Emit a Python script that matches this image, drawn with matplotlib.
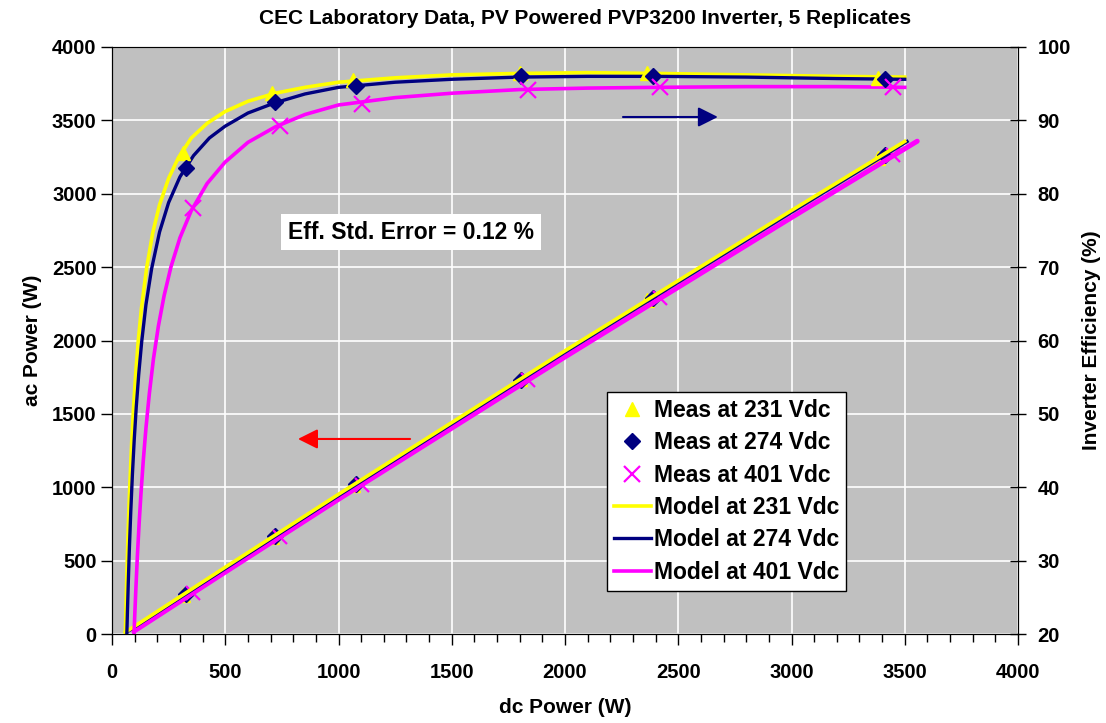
import matplotlib
matplotlib.use("Agg")
import matplotlib.pyplot as plt
from matplotlib.ticker import MultipleLocator

plt.rcParams["font.family"] = ["Liberation Sans", "DejaVu Sans"]
plt.rcParams["font.weight"] = "bold"

# measured points (dc power W, efficiency %, ac power W)
dc_231 = [315, 705, 1063, 1801, 2361, 3384]
eff_231 = [85.5, 93.7, 95.5, 96.4, 96.4, 95.8]
ac_231 = [269, 661, 1015, 1736, 2276, 3242]

dc_274 = [327, 720, 1077, 1804, 2387, 3413]
eff_274 = [83.5, 92.5, 94.7, 96.0, 96.05, 95.6]
ac_274 = [273, 666, 1020, 1732, 2293, 3263]

dc_401 = [356, 742, 1102, 1835, 2419, 3450]
eff_401 = [78.0, 89.2, 92.2, 94.2, 94.6, 94.6]
ac_401 = [278, 662, 1016, 1729, 2288, 3264]

# model efficiency curves
mdc_231 = [59, 62, 66, 70, 75, 80, 87, 95, 105, 116, 130, 153, 180, 210, 250, 293, 350, 420,
           499, 600, 720, 852, 1000, 1250, 1500, 1800, 2100, 2400, 2800, 3200, 3500]
meff_231 = [20, 23.9, 28.6, 32.8, 37.4, 41.3, 46.2, 50.8, 55.6, 60, 64.4, 69.9, 74.7, 78.5, 82.1,
            84.9, 87.6, 89.6, 91.2, 92.6, 93.7, 94.5, 95.2, 95.8, 96.2, 96.4, 96.5, 96.4, 96.2,
            96.0, 95.9]

mdc_274 = [65.5, 68, 72, 77, 83, 90, 98, 107, 118, 131, 150, 175, 210, 250, 300, 360, 430, 499,
           600, 720, 852, 1000, 1250, 1500, 1800, 2100, 2400, 2800, 3200, 3500]
meff_274 = [20, 22.9, 27.1, 31.9, 36.8, 41.7, 46.4, 50.9, 55.4, 59.8, 64.9, 69.8, 74.8, 78.8,
            82.3, 85.2, 87.6, 89.2, 91.0, 92.4, 93.6, 94.5, 95.2, 95.6, 95.9, 96.0, 96.0, 95.9,
            95.7, 95.6]

mdc_401 = [97.2, 100, 105, 112, 120, 128, 138, 150, 165, 183, 205, 230, 260, 300, 350, 420, 499,
           600, 720, 852, 1000, 1250, 1500, 1800, 2100, 2400, 2800, 3200, 3500]
meff_401 = [20, 22.2, 25.9, 30.6, 35.2, 39.2, 43.6, 48.1, 52.8, 57.5, 62.0, 66.1, 70.0, 74.0,
            77.7, 81.4, 84.3, 87.0, 89.1, 90.8, 92.1, 93.1, 93.7, 94.2, 94.4, 94.5, 94.6, 94.6,
            94.5]

# model ac power lines
mac_dc_231 = [59, 500, 1000, 2000, 3000, 3500]
mac_231 = [12, 455, 952, 1930, 2886, 3357]
mac_dc_274 = [65, 500, 1000, 2000, 3000, 3510]
mac_274 = [13, 446, 943, 1920, 2874, 3356]
mac_dc_401 = [97, 500, 1000, 2000, 3000, 3555]
mac_401 = [19, 422, 918, 1888, 2838, 3358]

YEL, NAVY, MAG = "#FFFF00", "#000080", "#FF00FF"

fig = plt.figure(figsize=(11.06, 7.23), dpi=100)
ax = fig.add_axes([112 / 1106, 1 - 634 / 723, 906 / 1106, 587 / 723])
ax2 = ax.twinx()

ax.set_facecolor("#C0C0C0")
ax.set_xlim(0, 4000)
ax.set_ylim(0, 4000)
ax2.set_ylim(20, 100)
ax.xaxis.set_major_locator(MultipleLocator(500))
ax.xaxis.set_minor_locator(MultipleLocator(100))
ax.yaxis.set_major_locator(MultipleLocator(500))
ax2.yaxis.set_major_locator(MultipleLocator(10))
ax.grid(True, color="white", lw=1.2)
ax.set_axisbelow(True)

# ac power (left axis): markers under the model lines
ax.plot(dc_231, ac_231, "^", color=YEL, ms=10, zorder=2)
ax.plot(dc_274, ac_274, "D", color=NAVY, ms=8, zorder=2)
ax.plot(dc_401, ac_401, "x", color=MAG, ms=10, mew=1.6, zorder=2)
ax.plot(mac_dc_401, mac_401, color=MAG, lw=3.6, zorder=3, solid_capstyle="round")
ax.plot(mac_dc_274, mac_274, color=NAVY, lw=2.4, zorder=3)
ax.plot(mac_dc_231, mac_231, color=YEL, lw=2.6, zorder=3)

# efficiency (right axis)
l1, = ax2.plot(mdc_231, meff_231, color=YEL, lw=2.6, label="Model at 231 Vdc")
l2, = ax2.plot(mdc_274, meff_274, color=NAVY, lw=2.4, label="Model at 274 Vdc")
l3, = ax2.plot(mdc_401, meff_401, color=MAG, lw=2.6, label="Model at 401 Vdc")
m1, = ax2.plot(dc_231, eff_231, "^", color=YEL, ms=10, ls="none", label="Meas at 231 Vdc")
m2, = ax2.plot(dc_274, eff_274, "D", color=NAVY, ms=8, ls="none", label="Meas at 274 Vdc")
m3, = ax2.plot(dc_401, eff_401, "x", color=MAG, ms=11, mew=1.6, ls="none", label="Meas at 401 Vdc")

# arrows pointing to each axis
ax.annotate("", xy=(821, 1329), xytext=(1316, 1329),
            arrowprops=dict(arrowstyle="-|>", color="#FF0000", lw=1.5, mutation_scale=30,
                            shrinkA=0, shrinkB=0))
ax2.annotate("", xy=(2675, 90.46), xytext=(2256, 90.46),
             arrowprops=dict(arrowstyle="-|>", color=NAVY, lw=1.5, mutation_scale=30,
                             shrinkA=0, shrinkB=0))

ax.text(1320, 2739, "Eff. Std. Error = 0.12 %", fontsize=16.5, fontweight="bold",
        ha="center", va="center",
        bbox=dict(boxstyle="square,pad=0.3", fc="white", ec="none"), zorder=5)

leg = ax2.legend(handles=[m1, m2, m3, l1, l2, l3], loc="upper left",
                 bbox_to_anchor=(607 / 1106, 1 - 392 / 723), bbox_transform=fig.transFigure,
                 borderaxespad=0, fancybox=False, framealpha=1, edgecolor="black",
                 prop=dict(size=16.5, weight="bold"), labelspacing=0.41, handlelength=1.6,
                 handletextpad=0.15, borderpad=0.3)
leg.get_frame().set_linewidth(1.0)

for s in ["left", "bottom"]:
    ax.spines[s].set_color("black")
ax.spines["top"].set_color("#808080")
ax2.spines["right"].set_color("black")
ax.tick_params(axis="x", which="major", direction="out", length=8, width=1, labelsize=14.5, pad=13)
ax.tick_params(axis="x", which="minor", direction="out", length=6, width=1)
ax.tick_params(axis="y", direction="out", length=8, width=1, labelsize=14.5, pad=3)
ax2.tick_params(axis="y", direction="inout", length=12, width=1, labelsize=14.5, pad=8)
for lab in ax.get_xticklabels() + ax.get_yticklabels() + ax2.get_yticklabels():
    lab.set_fontweight("bold")

ax.set_xlabel("dc Power (W)", fontsize=15, fontweight="bold", va="center")
ax.xaxis.set_label_coords(0.5, -0.126)
ax.set_ylabel("ac Power (W)", fontsize=15, fontweight="bold", va="center")
ax.yaxis.set_label_coords(-0.088, 0.5)
ax2.set_ylabel("Inverter Efficiency (%)", fontsize=15, fontweight="bold", va="center")
ax2.yaxis.set_label_coords(1.081, 0.5)

fig.text(585 / 1106, 1 - 18 / 723, "CEC Laboratory Data, PV Powered PVP3200 Inverter, 5 Replicates",
         fontsize=15, fontweight="bold", ha="center", va="center")

fig.savefig("out.png", dpi=100)
